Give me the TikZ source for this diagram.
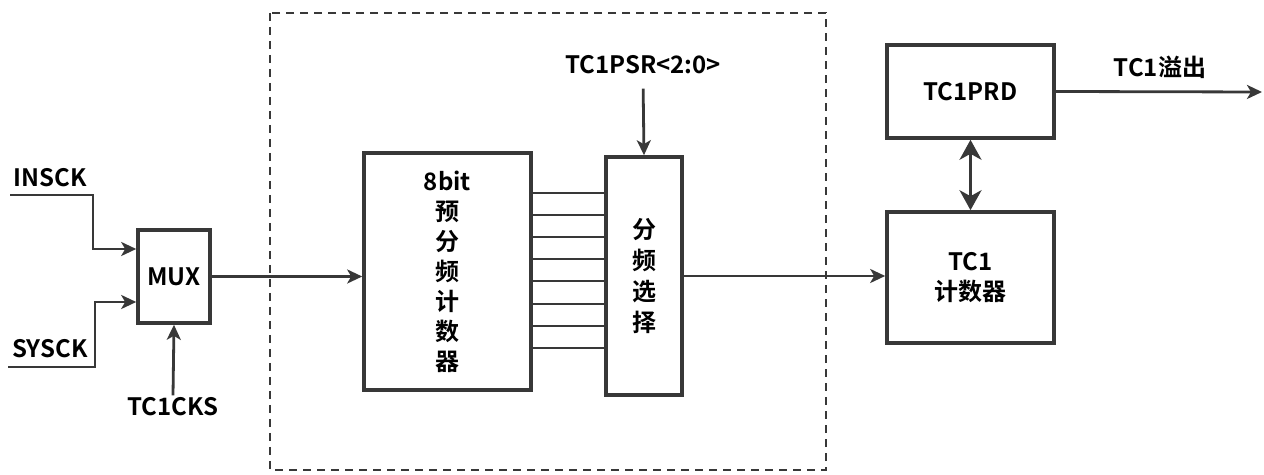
\documentclass[tikz,border=0pt]{standalone}
\usepackage{fontspec}
\setmainfont{Noto Sans CJK SC}[BoldFont=* Bold]
\usetikzlibrary{arrows.meta}
\definecolor{linegray}{HTML}{383838}
\newcommand\labfont{\bfseries\fontsize{12}{15}\selectfont}
\tikzset{
  blk/.style={draw=linegray, line width=1.8pt, inner sep=0pt, align=center, font=\labfont},
  wire/.style={draw=linegray, line width=1.4pt},
  sig/.style={wire, -{Stealth[length=7.5pt,width=7pt,inset=2pt]}},
  lbl/.style={inner sep=1pt, font=\labfont}
}
\begin{document}
\begin{tikzpicture}[x=0.5pt,y=-0.5pt]
\useasboundingbox (0,0) rectangle (1264,475);
% prescaler frame
\draw[draw=linegray, line width=0.9pt, dash pattern=on 4pt off 3pt] (270,13) rectangle (826,470);
% blocks
\node[blk, minimum width=36pt, minimum height=46.5pt] (mux) at (174,276.5) {MUX};
\node[blk, minimum width=83.5pt, minimum height=118.5pt] (presc) at (447.5,271.5) {8bit\\预\\分\\频\\计\\数\\器};
\node[blk, minimum width=38pt, minimum height=119pt, font=\bfseries\fontsize{12}{15.5}\selectfont] (sel) at (644,276) {分\\频\\选\\择};
\node[blk, minimum width=83.5pt, minimum height=65.5pt] (tc1) at (970.5,277.5) {TC1\\计数器};
\node[blk, minimum width=83.5pt, minimum height=46.5pt] (prd) at (970.5,91.5) {TC1PRD};
% labels
\node[lbl] (insckl) at (50,178) {INSCK};
\node[lbl] (sysckl) at (50,349) {SYSCK};
\node[lbl] (cks) at (173,407) {TC1CKS};
\node[lbl] (psr) at (643,65) {TC1PSR<2:0>};
\node[lbl] (ovfl) at (1160,67) {TC1溢出};
\coordinate (insck) at (10,195);
\coordinate (sysck) at (8,367);
\coordinate (ovf) at (1262,92);
% clock inputs
\draw[sig] (insck) -| (93,249) -- (mux.west |- 0,249);
\draw[sig] (sysck) -| (95,302) -- (mux.west |- 0,302);
\draw[sig] (cks.north) -- (mux.south);
\draw[sig] (mux.east) -- (presc.west |- mux.east);
% eight taps
\foreach \y in {193,215,237,259,281,304,326,348}
  \draw[wire] (presc.east |- 0,\y) -- (sel.west |- 0,\y);
\draw[sig, shorten <=6pt] (psr.south) -- (sel.north);
\draw[sig] (sel.east) -- (sel.east -| tc1.west);
\draw[wire, {Stealth[length=10pt,width=11pt,inset=3pt]}-{Stealth[length=10pt,width=11pt,inset=3pt]}] (prd.south) -- (tc1.north);
\draw[sig] (prd.east) -- (ovf);
\end{tikzpicture}
\end{document}
